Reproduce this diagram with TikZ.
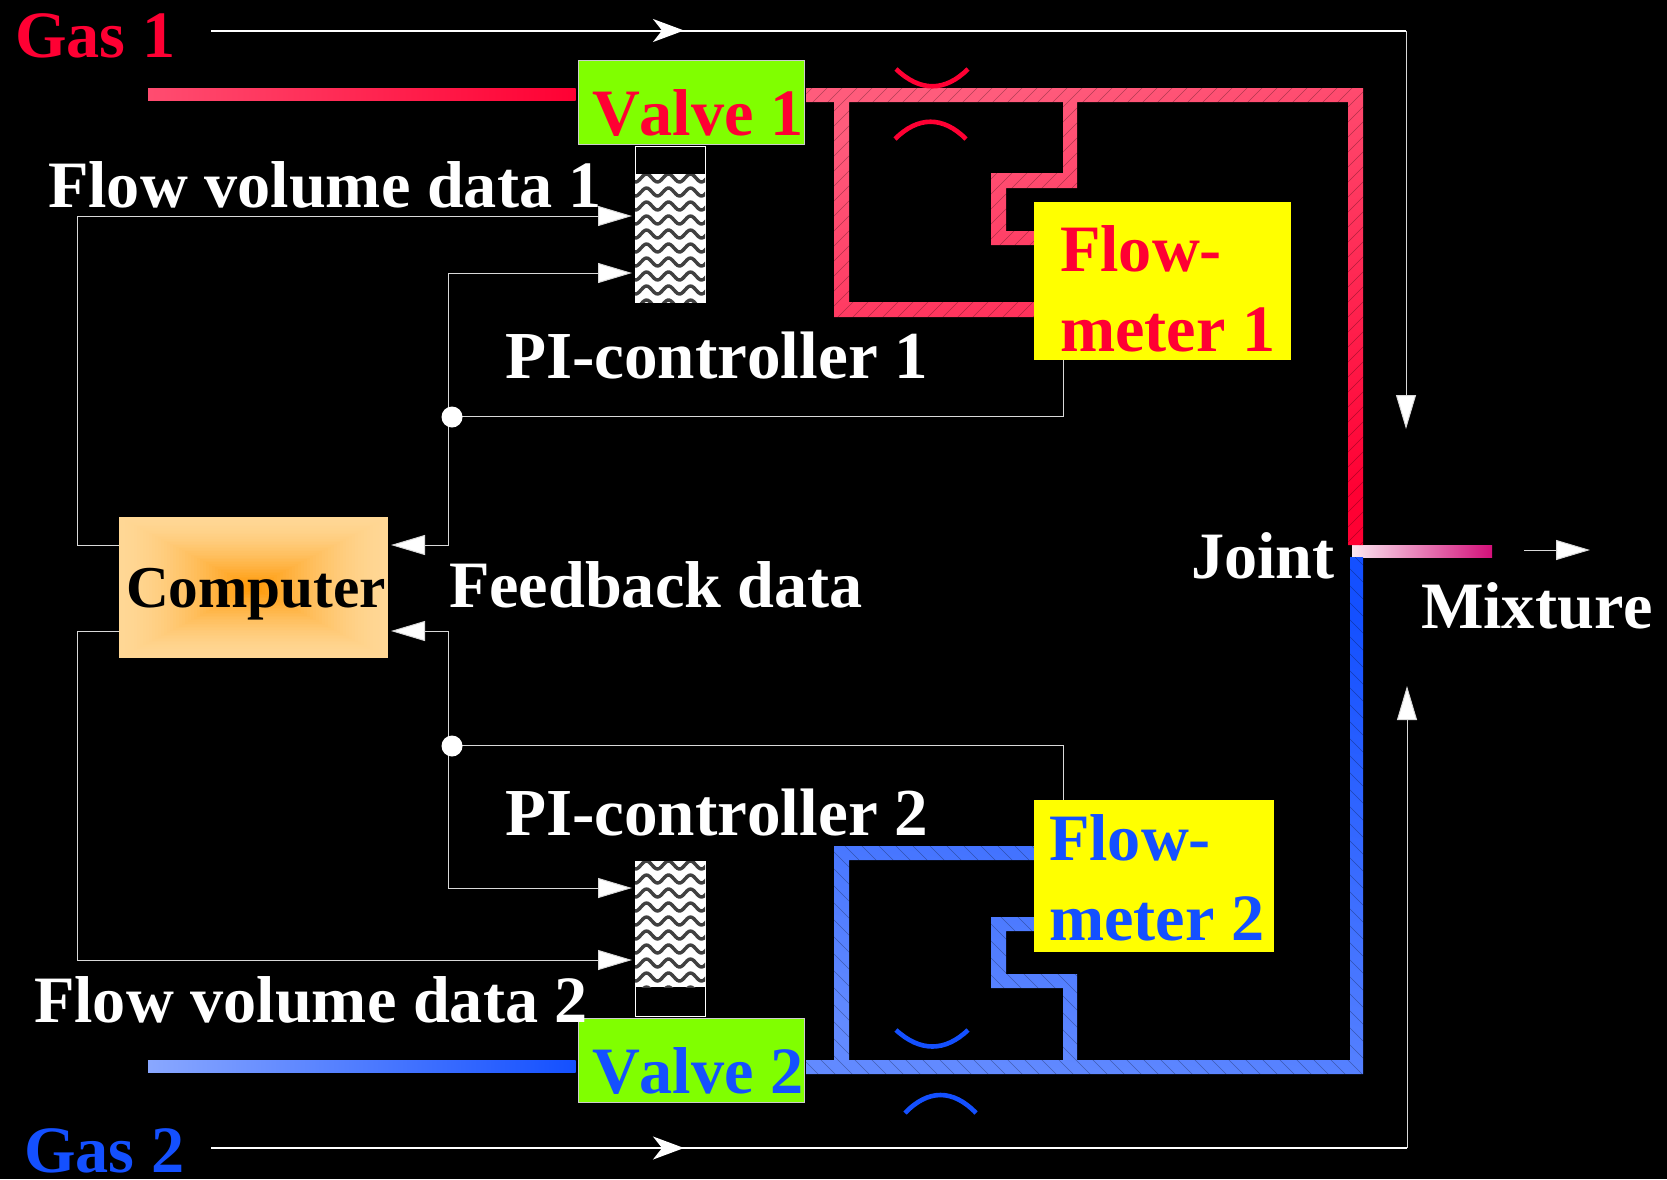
\documentclass[tikz,border=0pt]{standalone}
\usepackage{fontspec}
\setmainfont[Kerning=Off]{Liberation Serif}
\usetikzlibrary{arrows.meta}
\definecolor{cRed}{HTML}{FF0033}
\definecolor{cBlue}{HTML}{1450FF}
\definecolor{cGreen}{HTML}{80FF00}
\definecolor{cYellow}{HTML}{FFFF00}
\definecolor{cPale}{HTML}{FFD795}
\definecolor{cOrange}{HTML}{FF9600}
\definecolor{cMixA}{HTML}{FAE6F0}
\definecolor{cMixB}{HTML}{D4107A}
\tikzset{
  lbl/.style={anchor=base west,inner sep=0pt,outer sep=0pt,font=\fontsize{66.5}{80}\selectfont\bfseries},
  lblwide/.style={lbl,font=\fontsize{67.4}{80}\selectfont\bfseries},
  boxn/.style={anchor=north west,inner sep=0pt,outer sep=0pt},
  valvebox/.style={boxn,fill=cGreen,draw=white!80!black,line width=1bp,minimum width=226.5bp,minimum height=84bp},
  meterbox/.style={boxn,fill=cYellow,minimum height=158bp},
  wire/.style={draw=white!85!black,line width=1bp},
  bigarrow/.style={wire,-{Triangle[length=34bp,width=20bp,fill=white]}},
  midarrow/.style={white,line width=1.6bp,-{Stealth[length=31bp,width=23bp,inset=9bp]}},
  dot/.style={circle,fill=white,inner sep=0pt,minimum size=21bp},
  orifice/.style={line width=4.6bp,line cap=butt},
  wave/.style={black!75,line width=3.4bp},
}
\begin{document}
\begin{tikzpicture}[x=1bp,y=-1bp]
\useasboundingbox (0,0) rectangle (1667,1179);
\fill[black] (0,0) rectangle (1667,1179);

% feed pipes and mixture
\shade[left color=cRed!70!white,right color=cRed] (148,88) rectangle (575.5,100);
\shade[left color=cBlue!50!white,right color=cBlue] (148,1060) rectangle (575.5,1072);
\shade[left color=cMixA,right color=cMixB] (1352,545) rectangle (1492,557);

% red pipe network
\begin{scope}
\clip (806,88) rectangle (1363,102)
      (834,88) rectangle (849,317)
      (834,302) rectangle (1040,317)
      (1063,88) rectangle (1077,188)
      (991,173) rectangle (1077,188)
      (991,173) rectangle (1006,245)
      (991,231) rectangle (1040,245)
      (1348,88) rectangle (1363,545);
\shade[top color=cRed!64!white,bottom color=cRed,shading angle=15] (806,88) rectangle (1363,545);
\foreach \x in {250,265,...,1400}
  \draw[black,opacity=.3,line width=.5bp] (\x,560) -- (\x+520,40);
\end{scope}

% blue pipe network
\begin{scope}
\clip (806,1060) rectangle (1363,1074)
      (834,846) rectangle (849,1074)
      (834,846) rectangle (1040,860)
      (1063,974) rectangle (1077,1074)
      (991,974) rectangle (1077,988)
      (991,917) rectangle (1006,988)
      (991,917) rectangle (1040,931)
      (1350,557) rectangle (1363,1074);
\shade[bottom color=cBlue!67!white,top color=cBlue,shading angle=-15] (806,557) rectangle (1363,1074);
\foreach \x in {250,267,...,1400}
  \draw[black,opacity=.3,line width=.5bp] (\x,540) -- (\x+550,1090);
\end{scope}

% orifice arcs
\draw[orifice,cRed] (896,69) .. controls (920,92) and (945,92) .. (968,69);
\draw[orifice,cRed] (895,139) .. controls (918,116) and (943,116) .. (966,139);
\draw[orifice,cBlue] (896,1030) .. controls (920,1052) and (945,1052) .. (968,1030);
\draw[orifice,cBlue] (905,1113) .. controls (928,1089) and (953,1089) .. (976,1113);

% boxes
\node[valvebox] (valve1) at (578,60) {};
\node[valvebox] (valve2) at (578,1018) {};
\node[meterbox,minimum width=257bp] (meter1) at (1034,202) {};
\node[meterbox,minimum width=240bp,minimum height=152bp] (meter2) at (1034,800) {};

% PI controllers
\node[boxn,draw=white,line width=1bp,minimum width=70bp,minimum height=156bp] (pi1) at (635,146) {};
\node[boxn,draw=white,line width=1bp,minimum width=70bp,minimum height=155bp] (pi2) at (635,861) {};
\begin{scope}
\clip (635,174) rectangle (705,302);
\fill[white] (635,174) rectangle (705,302);
\foreach \r in {0,...,9}
  \draw[wave] plot[domain=0:80,samples=50] (\x+630,{178+\r*14+4*sin(\x*16.364)});
\end{scope}
\begin{scope}
\clip (635,861) rectangle (705,987);
\fill[white] (635,861) rectangle (705,987);
\foreach \r in {0,...,9}
  \draw[wave] plot[domain=0:80,samples=50] (\x+630,{865+\r*14+4*sin(\x*16.364)});
\end{scope}

% computer
\foreach \i in {0,...,44}{
  \pgfmathsetmacro{\t}{\i/45}
  \pgfmathsetmacro{\p}{100*\t^1.6}
  \pgfmathsetmacro{\w}{134.5*(1-\t)}
  \pgfmathsetmacro{\h}{70.5*(1-\t)}
  \fill[cOrange!\p!cPale] (253.5-\w,587.5-\h) rectangle (253.5+\w,587.5+\h);
}
\node[boxn,minimum width=269bp,minimum height=141bp] (computer) at (119,517) {};

% named wire points
\coordinate (g1start) at (211,30.5);
\coordinate (g1mid) at (684,30.5);
\coordinate (g1corner) at (1406,30.5);
\coordinate (g1end) at (1406,429);
\coordinate (g2start) at (211,1148);
\coordinate (g2mid) at (684,1148);
\coordinate (g2corner) at (1407,1148);
\coordinate (g2end) at (1407,686);
\coordinate (mixa) at (1524,550);
\coordinate (mixb) at (1590,550);
\coordinate (m1down) at (1063,416);
\coordinate (m2up) at (1063,745);
\coordinate (fb1a) at (448,416);
\coordinate (fb1top) at (448,273);
\coordinate (fb1c) at (448,545);
\coordinate (fb2a) at (448,745);
\coordinate (fb2bot) at (448,888);
\coordinate (fb2c) at (448,631);
\coordinate (fv1a) at (119,545);
\coordinate (fv1b) at (77,545);
\coordinate (fv1c) at (77,216);
\coordinate (fv2a) at (119,631);
\coordinate (fv2b) at (77,631);
\coordinate (fv2c) at (77,960);
\coordinate (pi1fb) at (632,273);
\coordinate (pi1fv) at (632,216);
\coordinate (pi2fb) at (632,888);
\coordinate (pi2fv) at (632,960);
\coordinate (ca) at (391,545);
\coordinate (cb) at (391,631);

% gas lines
\draw[white,line width=2bp] (g1start) -- (g1corner);
\draw[bigarrow] (g1corner) -- (g1end);
\draw[midarrow] (g1start) -- (g1mid);
\draw[white,line width=1.3bp] (g2start) -- (g2corner);
\draw[bigarrow] (g2corner) -- (g2end);
\draw[midarrow] (g2start) -- (g2mid);
\draw[bigarrow] (mixa) -- (mixb);

% signals
\draw[wire] (meter1.south west -| m1down) -- (m1down) -- (fb1a);
\draw[bigarrow] (fb1a) -- (fb1top) -- (pi1fb);
\draw[bigarrow] (fb1a) -- (fb1c) -- (ca);
\draw[wire] (meter2.north west -| m2up) -- (m2up) -- (fb2a);
\draw[bigarrow] (fb2a) -- (fb2bot) -- (pi2fb);
\draw[bigarrow] (fb2a) -- (fb2c) -- (cb);
\draw[bigarrow] (fv1a) -- (fv1b) -- (fv1c) -- (pi1fv);
\draw[bigarrow] (fv2a) -- (fv2b) -- (fv2c) -- (pi2fv);
\node[dot] (dot1) at (452,417) {};
\node[dot] (dot2) at (452,746) {};

% labels
\node[lbl,cRed] (tgas1) at (15,57) {Gas 1};
\node[lbl,cBlue] (tgas2) at (24,1172) {Gas 2};
\node[lbl,cRed] (tv1) at (592,135) {Valve 1};
\node[lbl,cBlue] (tv2) at (592,1093) {Valve 2};
\node[lbl,white] (tfv1) at (48,207) {Flow volume data 1};
\node[lbl,white] (tfv2) at (34,1022) {Flow volume data 2};
\node[lblwide,white] (tpi1) at (505,378) {PI-controller 1};
\node[lblwide,white] (tpi2) at (505,835) {PI-controller 2};
\node[lbl,white] (tfb) at (449,607) {Feedback data};
\node[lbl,white] (tj) at (1191,578) {Joint};
\node[lbl,white] (tmix) at (1421,628) {Mixture};
\node[lbl,cRed] (tm1a) at (1060,271) {Flow-};
\node[lbl,cRed] (tm1b) at (1060,351) {meter 1};
\node[lbl,cBlue] (tm2a) at (1049,860) {Flow-};
\node[lbl,cBlue] (tm2b) at (1049,940) {meter 2};
\node[lbl,black,font=\fontsize{59.5}{70}\selectfont\bfseries] (tc) at (126,607) {Computer};
\end{tikzpicture}
\end{document}
